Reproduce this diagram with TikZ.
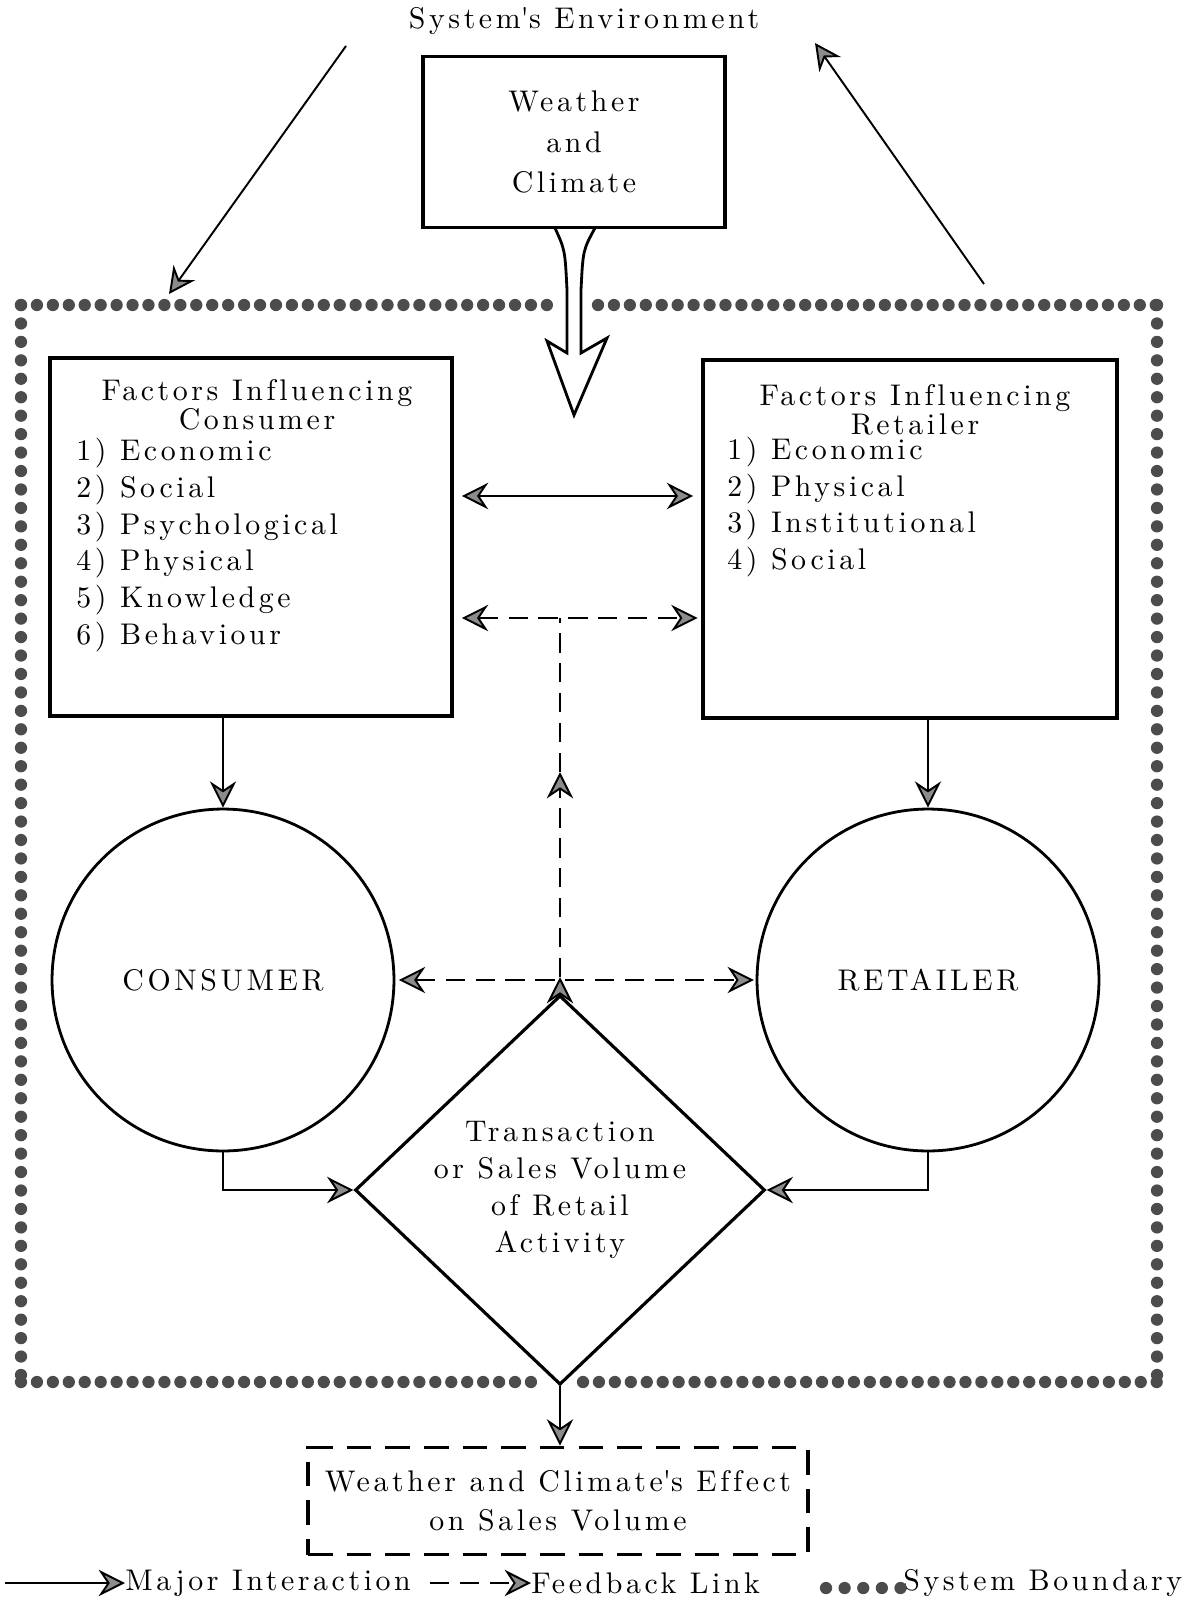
\documentclass[tikz,border=0pt]{standalone}
\usepackage{fontspec}
\setmainfont{lmroman10-regular.otf}[LetterSpace=12, Ligatures=NoCommon]
\usetikzlibrary{arrows.meta, shapes.geometric, positioning}
\tikzstyle{major} = [draw, line width=1.1pt]
\tikzstyle{feedback} = [draw, line width=1.1pt, dash pattern=on 11pt off 6pt]

\begin{document}
\begin{tikzpicture}[x=0.02cm, y=-0.02cm,
          > = {Stealth[length=15pt, width=15pt, inset=5pt, fill=black!45]}, % arrow head style
          every node/.style = {font=\fontsize{17}{21}\selectfont, inner sep=0pt},
          factorbox/.style = {draw, line width=2.2pt, minimum height=7.16cm},
          actor/.style = {circle, draw, line width=1.6pt, minimum size=6.84cm},
          transbox/.style = {diamond, draw, line width=1.8pt, minimum width=8.2cm,
                             minimum height=6.88cm, align=center},
          title/.style = {align=center, font=\fontsize{17}{14.5}\selectfont},
          items/.style = {align=left, anchor=west},
          boundary/.style = {draw=black!70, line width=7pt, line cap=round,
                             dash pattern=on 0pt off 9.07pt},
          boundaryv/.style = {boundary, dash pattern=on 0pt off 10.5pt}
      ]
  \useasboundingbox (0,0) rectangle (1190,1603);

  % Environment and system boundary
  \node (envtext) at (584,21) {System\textquotesingle s Environment};
  \node[draw, line width=2.2pt, minimum width=6.04cm, minimum height=3.42cm, align=center,
        font=\fontsize{17}{23}\selectfont] (wc) at (574,142) {Weather\\and\\Climate};

  \draw[line width=1.6pt] (555,228) .. controls (565,250) .. (567,290) -- (567,353)
      -- (547,341) -- (574,415) -- (607,338) -- (581,353) -- (581,290)
      .. controls (583,250) .. (595,228);

  \draw[boundary] (21,305) -- (552,305);
  \draw[boundary] (598,305) -- (1157,305);
  \draw[boundaryv] (21,305) -- (21,1382);
  \draw[boundaryv] (1157,305) -- (1157,1382);
  \draw[boundary] (21,1382) -- (538,1382);
  \draw[boundary] (583,1382) -- (1157,1382);

  % Factor boxes
  \node[factorbox, minimum width=8.04cm] (fcons) at (251,537) {};
  \node[title] (tcons) at (257,405) {Factors Influencing\\Consumer};
  \node[items] (lcons) at (76,545) {1) Economic\\2) Social\\3) Psychological\\4) Physical\\5) Knowledge\\6) Behaviour};

  \node[factorbox, minimum width=8.28cm] (fret) at (910,539) {};
  \node[title] (tret) at (915,410) {Factors Influencing\\Retailer};
  \node[items] (lret) at (727,507) {1) Economic\\2) Physical\\3) Institutional\\4) Social};

  % Actors and transaction
  \node[actor] (cons) at (223,980) {CONSUMER};
  \node[actor] (ret) at (928,980) {RETAILER};
  \node[transbox] (trans) at (560,1190) {Transaction\\or Sales Volume\\of Retail\\Activity};

  \node[draw, line width=2.2pt, dash pattern=on 14pt off 8pt, minimum width=10cm,
        minimum height=2.14cm, align=center, font=\fontsize{17}{22}\selectfont]
        (effect) at (558,1501) {Weather and Climate\textquotesingle s Effect\\on Sales Volume};

  % Connect with edges
  \coordinate (envl) at (346,46);
  \coordinate (envlt) at (169,294);
  \coordinate (envr) at (984,284);
  \coordinate (envrt) at (815,43);
  \draw[major,->] (envl) -- (envlt);
  \draw[major,->] (envr) -- (envrt);

  \coordinate (solid) at (575,496);
  \coordinate (fbtop) at (560,618);
  \coordinate (fbup) at (560,772);
  \coordinate (fbmid) at (560,977);

  \draw[major,<->, shorten <=4.5pt, shorten >=4.5pt] (fcons.east |- solid) -- (fret.west |- solid);
  \draw[feedback,<->, shorten <=4.5pt, shorten >=2pt] (fcons.east |- fbtop) -- (fret.west |- fbtop);
  \draw[feedback] (fbup) -- (fbtop);
  \draw[feedback,->] (fbmid) -- (fbup);
  \draw[feedback,->] (trans.north) -- (fbmid);
  \draw[feedback,<->, shorten <=2pt, shorten >=1pt] (cons) -- (ret);

  \draw[major,->] (cons |- fcons.south) -- (cons);
  \draw[major,->] (ret |- fret.south) -- (ret);
  \draw[major,->] (cons.south) |- (trans.west);
  \draw[major,->] (ret.south) |- (trans.east);
  \draw[major,->] (trans.south) -- (trans.south |- effect.north);

  % Legend
  \coordinate (lgm) at (5,1583);
  \node[anchor=west] (lgmajor) at (125,1583) {Major Interaction};
  \coordinate (lgf) at (430,1583);
  \node[anchor=west] (lgfeed) at (531,1583) {Feedback Link};
  \node[anchor=west] (lgbound) at (903,1583) {System Boundary};
  \draw[major,->] (lgm) -- (lgmajor.west);
  \draw[feedback,->] (lgf) -- (lgfeed.west);
  \draw[boundary, dash pattern=on 0pt off 10.6pt] (826,1588) -- (904,1588);
\end{tikzpicture}
\end{document}
